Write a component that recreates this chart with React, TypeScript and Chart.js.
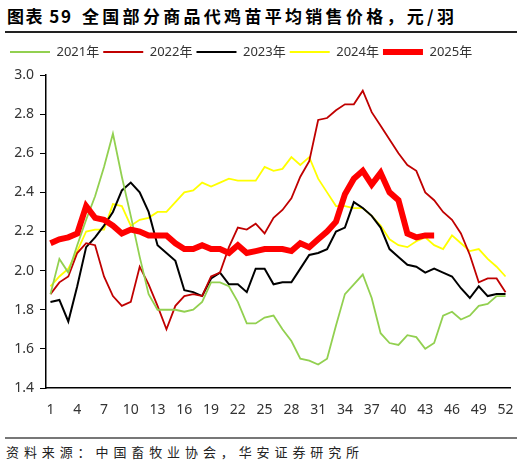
import React, { useEffect, useRef } from 'react';
import Chart from 'chart.js/auto';

const weeks = Array.from({ length: 52 }, (_, i) => String(i + 1));

const y2021 = [
  1.88, 2.06, 1.99, 2.13, 2.26, 2.38, 2.53, 2.70, 2.48, 2.28, 2.07, 1.88, 1.80,
  1.80, 1.80, 1.79, 1.80, 1.84, 1.94, 1.94, 1.92, 1.84, 1.73, 1.73, 1.76, 1.77,
  1.70, 1.64, 1.55, 1.54, 1.52, 1.55, 1.72, 1.88, 1.93, 1.98, 1.86, 1.68, 1.63,
  1.62, 1.67, 1.66, 1.60, 1.63, 1.77, 1.79, 1.75, 1.77, 1.82, 1.83, 1.87, 1.87,
];
const y2022 = [
  1.88, 1.94, 1.97, 2.09, 2.14, 2.13, 1.97, 1.87, 1.82, 1.84, 2.02, 1.93, 1.82,
  1.70, 1.82, 1.87, 1.88, 1.87, 1.97, 1.99, 2.12, 2.22, 2.21, 2.24, 2.19, 2.27,
  2.31, 2.37, 2.48, 2.56, 2.77, 2.78, 2.82, 2.85, 2.85, 2.92, 2.81, 2.74, 2.67,
  2.60, 2.54, 2.51, 2.40, 2.36, 2.30, 2.26, 2.19, 2.08, 1.94, 1.96, 1.96, 1.89,
];
const y2023 = [
  1.84, 1.85, 1.74, 1.92, 2.12, 2.17, 2.23, 2.30, 2.41, 2.45, 2.40, 2.30, 2.13,
  2.09, 2.05, 1.90, 1.89, 1.87, 1.96, 1.99, 1.93, 1.93, 1.89, 2.01, 2.01, 1.93,
  1.94, 1.94, 2.01, 2.08, 2.09, 2.11, 2.20, 2.22, 2.35, 2.32, 2.28, 2.22, 2.11,
  2.07, 2.03, 2.02, 1.99, 2.01, 1.99, 1.97, 1.91, 1.86, 1.92, 1.87, 1.88, 1.88,
];
const y2024 = [
  1.92, 1.97, 2.01, 2.10, 2.20, 2.21, 2.21, 2.34, 2.33, 2.23, 2.26, 2.27, 2.30,
  2.30, 2.35, 2.40, 2.41, 2.45, 2.43, 2.45, 2.47, 2.46, 2.46, 2.46, 2.53, 2.51,
  2.52, 2.58, 2.54, 2.58, 2.47, 2.40, 2.33, 2.33, 2.32, 2.32, 2.28, 2.23, 2.16,
  2.13, 2.12, 2.15, 2.17, 2.13, 2.11, 2.18, 2.14, 2.10, 2.11, 2.06, 2.02, 1.97,
];
const y2025 = [
  2.14, 2.16, 2.17, 2.19, 2.33, 2.27, 2.26, 2.23, 2.19, 2.21, 2.20, 2.18, 2.18,
  2.18, 2.14, 2.11, 2.11, 2.13, 2.11, 2.11, 2.09, 2.13, 2.09, 2.10, 2.11, 2.11,
  2.11, 2.10, 2.14, 2.12, 2.16, 2.20, 2.25, 2.39, 2.47, 2.51, 2.44, 2.50, 2.40,
  2.36, 2.19, 2.17, 2.18, 2.18,
];

const seriesNames = ['2021年', '2022年', '2023年', '2024年', '2025年'];
const seriesColors = ['#92D050', '#C00000', '#000000', '#FFFF00', '#FF0000'];

const FONT = "'Noto Sans', 'Noto Sans CJK SC', sans-serif";
const CJK = "'Noto Sans CJK SC', 'Noto Sans', sans-serif";

export default function App() {
  const canvasRef = useRef<HTMLCanvasElement>(null);

  useEffect(() => {
    if (!canvasRef.current) return;
    const values = [y2021, y2022, y2023, y2024, y2025];
    const chart = new Chart(canvasRef.current, {
      type: 'line',
      data: {
        labels: weeks,
        datasets: values.map((d, i) => ({
          label: seriesNames[i],
          data: d,
          borderColor: seriesColors[i],
          backgroundColor: seriesColors[i],
          borderWidth: i === 4 ? 6 : i === 2 ? 2 : 1.8,
          pointRadius: 0,
          tension: 0,
          fill: false,
          order: i === 4 ? -1 : 0,
        })),
      },
      options: {
        animation: false,
        responsive: true,
        maintainAspectRatio: false,
        layout: { padding: { top: 5.5, left: 6, right: 21, bottom: 0 } },
        plugins: {
          // empty title used as a spacer between the legend and the plot
          title: {
            display: true,
            text: '',
            weight: 500,
            padding: 0,
            font: { size: 6.5, lineHeight: 1 },
          },
          legend: {
            position: 'top',
            align: 'start',
            labels: {
              usePointStyle: true,
              pointStyle: 'line',
              pointStyleWidth: 40,
              padding: 4,
              color: '#333',
              font: { size: 13, family: FONT },
              sort: (a, b) => (a.datasetIndex ?? 0) - (b.datasetIndex ?? 0),
              generateLabels: (c) =>
                Chart.defaults.plugins.legend.labels.generateLabels(c).map((it) => ({
                  ...it,
                  pointStyle: 'line',
                  strokeStyle: seriesColors[it.datasetIndex ?? 0],
                  lineWidth: it.datasetIndex === 4 ? 6 : 2,
                })),
            },
          },
          tooltip: { enabled: false },
        },
        scales: {
          x: {
            type: 'category',
            offset: true,
            grid: { display: false, drawTicks: false },
            border: { display: true, color: '#000', width: 1.5 },
            afterFit: (s) => {
              s.height = 42;
            },
            ticks: {
              autoSkip: false,
              maxRotation: 0,
              padding: 14,
              color: '#333',
              font: { size: 14, family: FONT },
              callback: (_v, i) => (i % 3 === 0 ? weeks[i] : ''),
            },
          },
          y: {
            min: 1.4,
            max: 3.0,
            grid: {
              display: true,
              drawOnChartArea: false,
              drawTicks: true,
              tickLength: 6,
              color: '#000',
            },
            border: { display: true, color: '#000', width: 1.5 },
            afterFit: (s) => {
              s.width = 40;
            },
            ticks: {
              stepSize: 0.2,
              padding: 6,
              color: '#333',
              font: { size: 14, family: FONT },
              callback: (v) => Number(v).toFixed(1),
            },
          },
        },
      },
    });
    return () => chart.destroy();
  }, []);

  return (
    <div
      style={{
        position: 'absolute',
        left: 0,
        top: 0,
        width: 531,
        height: 468,
        background: '#fff',
        overflow: 'hidden',
      }}
    >
      <div
        style={{
          position: 'absolute',
          left: 7,
          top: 3,
          fontFamily: CJK,
          fontWeight: 700,
          fontSize: 17,
          lineHeight: '26px',
          whiteSpace: 'pre',
          color: '#000',
        }}
      >
        <span style={{ letterSpacing: 1.5 }}>图表 59</span>
        <span style={{ position: 'absolute', left: 75, top: 0, letterSpacing: 3.3 }}>
          全国部分商品代鸡苗平均销售价格，元/羽
        </span>
      </div>
      <div style={{ position: 'absolute', left: 5, top: 31, width: 512, height: 1.5, background: '#222' }} />
      <div style={{ position: 'absolute', left: 0, top: 36, width: 531, height: 394 }}>
        <canvas ref={canvasRef} />
      </div>
      <div style={{ position: 'absolute', left: 5, top: 437, width: 512, height: 1.5, background: '#777' }} />
      <div
        style={{
          position: 'absolute',
          left: 6,
          top: 442,
          fontFamily: CJK,
          fontSize: 13,
          lineHeight: '20px',
          letterSpacing: 4.9,
          whiteSpace: 'pre',
          color: '#222',
        }}
      >
        资料来源：中国畜牧业协会，华安证券研究所
      </div>
    </div>
  );
}
